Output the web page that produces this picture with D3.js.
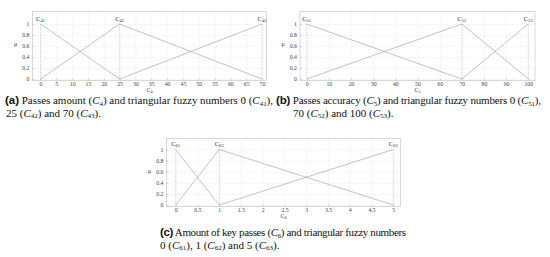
<!DOCTYPE html>
<html>
<head>
<meta charset="UTF-8">
<script src="https://d3js.org/d3.v7.min.js"></script>
<style>
  body { margin: 0; background: #fff; }
  svg { display: block; }
  .tk text { font-family: "Liberation Serif", serif; font-size: 5.8px; fill: #444; }
</style>
</head>
<body>
<div id="chart"></div>
<script>
// data
const yTicks = [0, 0.2, 0.4, 0.6, 0.8, 1];

const ticksA = [0, 5, 10, 15, 20, 25, 30, 35, 40, 45, 50, 55, 60, 65, 70];
const peaksA = [0, 25, 70];
const peakLabelsA = ["41", "42", "43"];
const seriesA = [
  [[0, 1], [25, 0]],
  [[0, 0], [25, 1], [70, 0]],
  [[25, 0], [70, 1]]
];

const ticksB = [0, 10, 20, 30, 40, 50, 60, 70, 80, 90, 100];
const peaksB = [0, 70, 100];
const peakLabelsB = ["51", "52", "53"];
const seriesB = [
  [[0, 1], [70, 0]],
  [[0, 0], [70, 1], [100, 0]],
  [[70, 0], [100, 1]]
];

const ticksC = [0, 0.5, 1, 1.5, 2, 2.5, 3, 3.5, 4, 4.5, 5];
const peaksC = [0, 1, 5];
const peakLabelsC = ["61", "62", "63"];
const seriesC = [
  [[0, 1], [1, 0]],
  [[0, 0], [1, 1], [5, 0]],
  [[1, 0], [5, 1]]
];

const svg = d3.select('#chart').append('svg').attr('width', 550).attr('height', 257);

// write "C" + subscript, shifting down with dy
function sub(sel, base, s, size) {
  sel.append('tspan').text(base);
  sel.append('tspan').text(s).attr('dy', size * 0.22).style('font-size', (size * 0.7) + 'px');
}

function panel(p) {
  const x = d3.scaleLinear().domain(p.dom).range(p.xr);
  const y = d3.scaleLinear().domain([0, 1]).range(p.yr);
  const g = svg.append('g');
  const h = p.fb - p.ft, w = p.fr - p.fl;

  // dotted grid
  g.append('g').attr('transform', `translate(0,${p.fb})`)
    .call(d3.axisBottom(x).tickValues(p.ticks).tickSize(-h).tickFormat(''))
    .call(a => a.select('.domain').remove())
    .call(a => a.selectAll('line').attr('stroke', '#d8d8d8').attr('stroke-width', 0.5).attr('stroke-dasharray', '1,1.5'));
  g.append('g').attr('transform', `translate(${p.fl},0)`)
    .call(d3.axisLeft(y).tickValues(yTicks).tickSize(-w).tickFormat(''))
    .call(a => a.select('.domain').remove())
    .call(a => a.selectAll('line').attr('stroke', '#d8d8d8').attr('stroke-width', 0.5).attr('stroke-dasharray', '1,1.5'));

  // axes with tick labels
  g.append('g').attr('class', 'tk').attr('transform', `translate(0,${p.fb})`)
    .call(d3.axisBottom(x).tickValues(p.ticks).tickSize(-2).tickPadding(1.8).tickFormat(d3.format('')))
    .call(a => a.select('.domain').remove())
    .call(a => a.selectAll('line').attr('stroke', '#aaa').attr('stroke-width', 0.5));
  g.append('g').attr('class', 'tk').attr('transform', `translate(${p.fl},0)`)
    .call(d3.axisLeft(y).tickValues(yTicks).tickSize(-2).tickPadding(3).tickFormat(d3.format('')))
    .call(a => a.select('.domain').remove())
    .call(a => a.selectAll('line').attr('stroke', '#aaa').attr('stroke-width', 0.5));

  g.append('rect').attr('x', p.fl).attr('y', p.ft).attr('width', w).attr('height', h)
    .attr('fill', 'none').attr('stroke', '#c8c8c8').attr('stroke-width', 0.7);

  // peak drop lines
  g.selectAll('.drop').data(p.peaks).join('line')
    .attr('x1', d => x(d)).attr('x2', d => x(d)).attr('y1', y(0)).attr('y2', y(1))
    .attr('stroke', '#aaa').attr('stroke-width', 0.5).attr('stroke-dasharray', '1,1');

  const line = d3.line().x(d => x(d[0])).y(d => y(d[1]));
  g.selectAll('.ser').data(p.series).join('path')
    .attr('d', line).attr('fill', 'none').attr('stroke', '#9a9a9a').attr('stroke-width', 0.6);

  p.peaks.forEach((d, i) => {
    const t = g.append('text').attr('x', x(d)).attr('y', y(1) - 3.5)
      .attr('text-anchor', 'middle').style('font-family', 'Liberation Serif, serif')
      .style('font-size', '6.5px').attr('fill', '#333');
    sub(t, 'C', p.peakLabels[i], 6.5);
  });

  const xl = g.append('text').attr('x', (p.fl + p.fr) / 2).attr('y', p.fb + 11)
    .attr('text-anchor', 'middle').style('font-family', 'Liberation Serif, serif')
    .style('font-size', '6px').attr('fill', '#333');
  sub(xl, 'C', p.xsub, 6);

  g.append('text').attr('x', p.fl - 17).attr('y', (p.ft + p.fb) / 2)
    .attr('text-anchor', 'middle').style('font-family', 'Liberation Serif, serif')
    .style('font-size', '6px').attr('fill', '#333').text('μ');
}

panel({ dom: [0, 70], xr: [40.5, 262], yr: [79, 24], fl: 32.5, fr: 266.5, ft: 11.5, fb: 80.5,
  ticks: ticksA, peaks: peaksA, peakLabels: peakLabelsA, series: seriesA, xsub: '4' });
panel({ dom: [0, 100], xr: [306.7, 528.3], yr: [79, 24], fl: 300, fr: 535, ft: 11.5, fb: 80.5,
  ticks: ticksB, peaks: peaksB, peakLabels: peakLabelsB, series: seriesB, xsub: '5' });
panel({ dom: [0, 5], xr: [175.7, 393.3], yr: [205, 149.5], fl: 166.5, fr: 400.5, ft: 138.5, fb: 206.5,
  ticks: ticksC, peaks: peaksC, peakLabels: peakLabelsC, series: seriesC, xsub: '6' });

// captions: each part is [text, isSub, italic, bold]
function caption(x, y, parts, len) {
  const t = svg.append('text').attr('x', x).attr('y', y)
    .style('font-family', 'Liberation Serif, serif').style('font-size', '11px').attr('fill', '#111');
  let down = false;
  parts.forEach(pt => {
    const s = t.append('tspan').text(pt[0]);
    if (pt[1]) { s.attr('dy', 1.8).style('font-size', '7px'); down = true; }
    else if (down) { s.attr('dy', -1.8); down = false; }
    if (pt[2]) s.style('font-style', 'italic');
    if (pt[3]) s.style('font-weight', 'bold').style('font-family', 'Liberation Sans, sans-serif').style('font-size', '11.5px');
  });
  if (len) t.attr('textLength', len).attr('lengthAdjust', 'spacing');
}

caption(5, 104, [['(a)', 0, 0, 1], [' Passes amount ('], ['C', 0, 1], ['4', 1], [') and triangular fuzzy numbers 0 ('],
  ['C', 0, 1], ['41', 1], ['),']], 268);
caption(6, 116.5, [['25 ('], ['C', 0, 1], ['42', 1], [') and 70 ('], ['C', 0, 1], ['43', 1], [').']]);
caption(276, 104, [['(b)', 0, 0, 1], [' Passes accuracy ('], ['C', 0, 1], ['5', 1], [') and triangular fuzzy numbers 0 ('],
  ['C', 0, 1], ['51', 1], ['),']], 265);
caption(293, 116.5, [['70 ('], ['C', 0, 1], ['52', 1], [') and 100 ('], ['C', 0, 1], ['53', 1], [').']]);
caption(160, 236, [['(c)', 0, 0, 1], [' Amount of key passes ('], ['C', 0, 1], ['6', 1], [') and triangular fuzzy numbers']], 246);
caption(160, 248.5, [['0 ('], ['C', 0, 1], ['61', 1], ['), 1 ('], ['C', 0, 1], ['62', 1], [') and 5 ('], ['C', 0, 1], ['63', 1], [').']]);
</script>
</body>
</html>
